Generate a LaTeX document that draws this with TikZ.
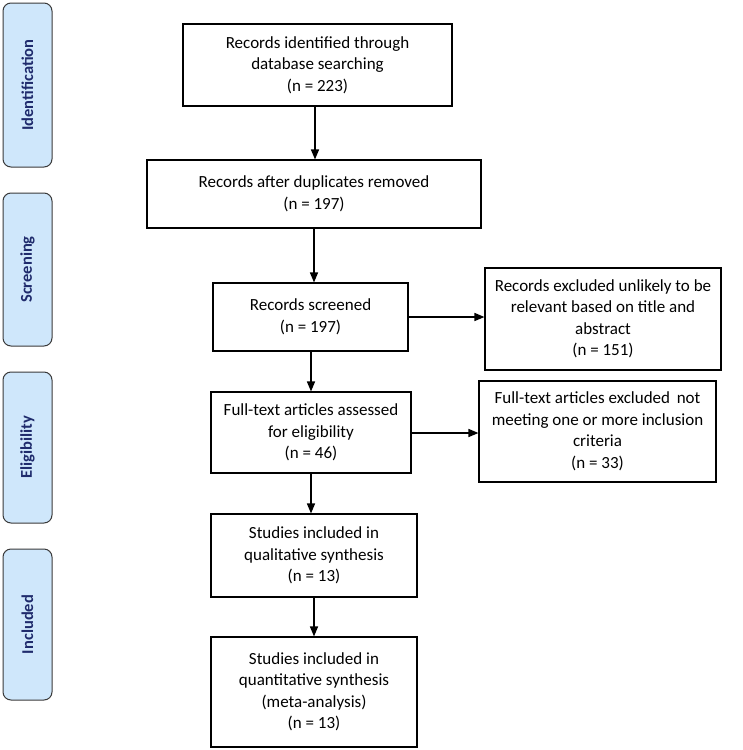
\documentclass[tikz,border=0pt]{standalone}
\usepackage{fontspec}
\setmainfont{Carlito}
\usetikzlibrary{arrows.meta}
\definecolor{sidefill}{HTML}{CFE7FB}
\definecolor{sidetext}{HTML}{1F2B6C}
\definecolor{sideline}{HTML}{3A3A3A}
\begin{document}
\begin{tikzpicture}[x=1pt,y=-1pt,
  box/.style={draw=black, line width=1.1pt, align=center, inner sep=2pt,
    font=\fontsize{17}{21.5}\selectfont},
  side/.style={draw=sideline, line width=1pt, fill=sidefill, rounded corners=8pt,
    minimum width=49pt, inner sep=0pt},
  sidelabel/.style={text=sidetext, rotate=90, font=\fontsize{16.5}{19}\selectfont\bfseries},
  arr/.style={line width=1.5pt, -{Triangle[length=10pt,width=8pt]}}]
\useasboundingbox (0,0) rectangle (742,750);

% side phase boxes
\node[side, minimum height=164pt] (sid) at (27.5,85) {};
\node[sidelabel] (tid) at (sid.center) {Identification};
\node[side, minimum height=153pt] (ssc) at (27.5,269.5) {};
\node[sidelabel] (tsc) at (ssc.center) {Screening};
\node[side, minimum height=151pt] (sel) at (27.5,447.5) {};
\node[sidelabel] (tel) at (sel.center) {Eligibility};
\node[side, minimum height=151pt] (sin) at (27.5,624.5) {};
\node[sidelabel] (tin) at (sin.center) {Included};

% flow boxes
\node[box, minimum width=269pt, minimum height=82pt] (b1) at (317.5,65)
  {Records identified through\\database searching\\(n = 223)};
\node[box, minimum width=334pt, minimum height=68pt] (b2) at (314,194)
  {Records after duplicates removed\\(n = 197)};
\node[box, minimum width=195pt, minimum height=68pt] (scr) at (310.5,317)
  {Records screened\\(n = 197)};
\node[box, minimum width=236pt, minimum height=102pt] (ex1) at (603,319)
  {Records excluded unlikely to be\\relevant based on title and\\abstract\\(n = 151)};
\node[box, minimum width=200pt, minimum height=81pt] (full) at (311,432.5)
  {Full-text articles assessed\\for eligibility\\(n = 46)};
\node[box, minimum width=237pt, minimum height=101pt] (ex2) at (597.5,431.5)
  {Full-text articles excluded\ \,not\\meeting one or more inclusion\\criteria\\(n = 33)};
\node[box, minimum width=206pt, minimum height=83pt] (qual) at (314,555.5)
  {Studies included in\\qualitative synthesis\\(n = 13)};
\node[box, minimum width=206pt, minimum height=110pt] (quant) at (314,692)
  {Studies included in\\quantitative synthesis\\(meta-analysis)\\(n = 13)};

% connectors
\coordinate (a1) at (315,106);
\draw[arr] (a1) -- (a1 |- b2.north);
\coordinate (a2) at (314,228);
\draw[arr] (a2) -- (a2 |- scr.north);
\coordinate (a3) at (311,351);
\draw[arr] (a3) -- (a3 |- full.north);
\coordinate (a4) at (311,473);
\draw[arr] (a4) -- (a4 |- qual.north);
\draw[arr] (qual.south) -- (quant.north);
\coordinate (a5) at (408,317);
\draw[arr] (a5) -- (a5 -| ex1.west);
\coordinate (a6) at (411,433);
\draw[arr] (a6) -- (a6 -| ex2.west);
\end{tikzpicture}
\end{document}
